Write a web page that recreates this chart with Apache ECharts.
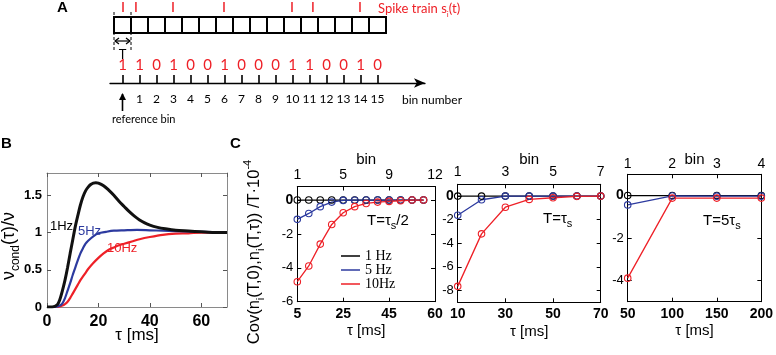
<!DOCTYPE html>
<html><head><meta charset="utf-8">
<script src="https://cdn.jsdelivr.net/npm/echarts@6/dist/echarts.min.js"></script>
<style>html,body{margin:0;padding:0;background:#fff}#c{width:776px;height:355px}</style>
</head><body><div id="c"></div>
<script>
// ---------- Panel A data ----------
const spikeTimes = [0.53, 1.29, 3.47, 6.47, 10.47, 11.7, 14.47];   // in bin units
const binCounts = [1, 1, 0, 1, 0, 0, 1, 0, 0, 0, 1, 1, 0, 0, 1, 0];
const binTickLabels = ['1','2','3','4','5','6','7','8','9','10','11','12','13','14','15'];

// ---------- Panel B data ----------
const tauBlack = [0,2,4,5,6,7,8,9,10,11,12,13,14,15,16,17,18,19,20,22,24,26,28,30,32,34,36,38,40,43,46,50,55,60,65,70];
const nuBlack  = [0,0,0.03,0.1,0.22,0.36,0.53,0.72,0.9,1.08,1.23,1.37,1.48,1.56,1.61,1.645,1.665,1.67,1.665,1.63,1.57,1.5,1.42,1.35,1.28,1.22,1.17,1.13,1.1,1.07,1.05,1.03,1.02,1.01,1.0,1.0];
const tauBlue  = [0,3,5,6,7,8,9,10,11,12,13,14,15,16,18,20,23,26,30,35,40,45,50,60,70];
const nuBlue   = [0,0,0.02,0.05,0.12,0.22,0.32,0.43,0.53,0.63,0.72,0.79,0.85,0.89,0.95,0.99,1.01,1.025,1.03,1.035,1.03,1.025,1.02,1.01,1.0];
const tauRed   = [0,4,6,7,8,9,10,11,12,13,14,15,16,18,20,22,24,26,28,30,33,36,40,45,50,55,60,70];
const nuRed    = [0,0,0.02,0.04,0.07,0.12,0.18,0.24,0.3,0.36,0.41,0.46,0.51,0.59,0.66,0.72,0.77,0.8,0.83,0.85,0.88,0.91,0.94,0.97,0.985,0.99,1.0,1.0];

// ---------- Panel C data ----------
const tauC1 = [5,10,15,20,25,30,35,40,45,50,55,60];
const cov1_1Hz  = [0,0,0,0,0,0,0,0,0,0,0,0];
const cov1_5Hz  = [-1.14,-0.79,-0.39,-0.12,-0.02,-0.01,0,0,0,0,0,0];
const cov1_10Hz = [-4.82,-3.89,-2.6,-1.44,-0.75,-0.39,-0.2,-0.12,-0.08,-0.04,0,0];
const tauC2 = [10,20,30,40,50,60,70];
const cov2_1Hz  = [0,0,0,0,0,0,0];
const cov2_5Hz  = [-1.62,-0.31,0,0,0,0,0];
const cov2_10Hz = [-7.65,-3.2,-0.94,-0.28,-0.14,-0.02,0];
const tauC3 = [50,100,150,200];
const cov3_1Hz  = [0,0,0,0];
const cov3_5Hz  = [-0.44,-0.02,-0.03,-0.03];
const cov3_10Hz = [-3.89,-0.12,-0.12,-0.12];

// tick values / labels for panel C
const c1TauTicks = [5,25,45,65],   c1TauLabels = ['5','25','45','60'];
const c1BinTicks = [1,5,9,13],     c1BinLabels = ['1','5','9','12'];
const c2TauTicks = [10,30,50,70],  c2TauLabels = ['10','30','50','70'];
const c2BinTicks = [1,3,5,7],      c2BinLabels = ['1','3','5','7'];
const c3TauTicks = [50,100,150,200], c3TauLabels = ['50','100','150','200'];
const c3BinTicks = [1,2,3,4],      c3BinLabels = ['1','2','3','4'];
const c1YTicks = [-6,-4,-2,0], c2YTicks = [-8,-6,-4,-2,0], c3YTicks = [-4,-2,0];
const legendNames = ['1 Hz', '5 Hz', '10Hz'];

const RED = '#ee2027', BLUE = '#2c3a9f', BLACK = '#000';
const zip = (a, b) => a.map((v, i) => [v, b[i]]);

const chart = echarts.init(document.getElementById('c'));

const xAxes = [], yAxes = [], grids = [], series = [];

// ---------- Panel A ----------
grids.push({left: 110, top: 0, width: 315, height: 83});
const binCenters = binCounts.map((c, i) => i + 0.5);
xAxes.push({
  gridIndex: 0, type: 'value', min: -4/17, max: 311/17,
  axisLine: {show: true, onZero: false, symbol: ['none', 'arrow'], symbolSize: [7, 11], lineStyle: {color: '#000', width: 1.3}},
  axisTick: {show: true, inside: true, length: 8, customValues: binCenters, lineStyle: {color: '#000', width: 1.6}},
  axisLabel: {show: true, customValues: binCenters.slice(1), formatter: v => binTickLabels[Math.floor(v) - 1],
    fontFamily: 'Lato', fontSize: 12, color: '#000', margin: 10},
  splitLine: {show: false}
});
yAxes.push({gridIndex: 0, type: 'value', inverse: true, min: 0, max: 83, show: false});

series.push({
  type: 'custom', xAxisIndex: 0, yAxisIndex: 0, silent: true,
  data: binCounts.map((c, i) => [i]),
  renderItem(params, api) {
    const i = api.value(0);
    const p0 = api.coord([i, 17]), p1 = api.coord([i + 1, 33]);
    return {type: 'rect', shape: {x: p0[0], y: p0[1], width: p1[0] - p0[0], height: p1[1] - p0[1]},
      style: {fill: '#fff', stroke: '#000', lineWidth: 2}};
  }
});
series.push({
  type: 'custom', xAxisIndex: 0, yAxisIndex: 0, silent: true,
  data: spikeTimes.map(t => [t]),
  renderItem(params, api) {
    const t = api.value(0);
    const p0 = api.coord([t, 2]), p1 = api.coord([t, 12]);
    return {type: 'line', shape: {x1: p0[0], y1: p0[1], x2: p1[0], y2: p1[1]}, style: {stroke: RED, lineWidth: 1.5}};
  }
});
series.push({
  type: 'custom', xAxisIndex: 0, yAxisIndex: 0, silent: true,
  data: binCounts.map((c, i) => [i + 0.5, c]),
  renderItem(params, api) {
    const p = api.coord([api.value(0), 65]);
    return {type: 'text', x: p[0], y: p[1], style: {text: String(api.value(1)), fill: RED, font: '15px Lato',
      align: 'center', verticalAlign: 'middle', textAlign: 'center', textVerticalAlign: 'middle'}};
  }
});
// T bracket and reference-bin arrow
series.push({
  type: 'custom', xAxisIndex: 0, yAxisIndex: 0, silent: true, clip: false,
  data: [[0, 1]],
  renderItem(params, api) {
    const a0 = api.coord([0, 12]), a1 = api.coord([0, 50]);
    const b0 = api.coord([1, 12]), b1 = api.coord([1, 50]);
    const l = api.coord([0, 41]), r = api.coord([1, 41]);
    const tt = api.coord([0.5, 55]);
    const rb0 = api.coord([0.5, 93]), rb1 = api.coord([0.5, 111]);
    const dash = {stroke: '#000', lineWidth: 1, lineDash: [3, 2]};
    const solid = {stroke: '#000', lineWidth: 1.2, fill: 'none'};
    return {type: 'group', children: [
      {type: 'line', shape: {x1: a0[0], y1: a0[1], x2: a1[0], y2: a1[1]}, style: dash},
      {type: 'line', shape: {x1: b0[0], y1: b0[1], x2: b1[0], y2: b1[1]}, style: dash},
      {type: 'line', shape: {x1: l[0] + 1, y1: l[1], x2: r[0] - 1, y2: r[1]}, style: solid},
      {type: 'polyline', shape: {points: [[l[0] + 5, l[1] - 3], [l[0] + 1, l[1]], [l[0] + 5, l[1] + 3]]}, style: solid},
      {type: 'polyline', shape: {points: [[r[0] - 5, r[1] - 3], [r[0] - 1, r[1]], [r[0] - 5, r[1] + 3]]}, style: solid},
      {type: 'text', x: tt[0], y: tt[1], style: {text: 'T', fill: '#000', font: '13px Lato', align: 'center', verticalAlign: 'middle', textAlign: 'center', textVerticalAlign: 'middle'}},
      {type: 'line', shape: {x1: rb0[0], y1: rb0[1] + 1, x2: rb1[0], y2: rb1[1]}, style: {stroke: '#000', lineWidth: 1.6}},
      {type: 'polygon', shape: {points: [[rb0[0], rb0[1]], [rb0[0] - 3.5, rb0[1] + 7], [rb0[0] + 3.5, rb0[1] + 7]]}, style: {fill: '#000'}}
    ]};
  }
});

// ---------- Panel B ----------
grids.push({left: 47, top: 173, width: 180, height: 134});
const frameB = {show: true, onZero: false, lineStyle: {color: '#8a8a8a', width: 1}};
const tickB = {show: true, inside: true, length: 4, lineStyle: {color: '#555', width: 1}};
xAxes.push({
  gridIndex: 1, type: 'value', min: 0, max: 70, interval: 20, position: 'bottom',
  axisLine: frameB, axisTick: tickB, splitLine: {show: false},
  axisLabel: {color: '#000', fontFamily: 'Liberation Sans', fontSize: 16, fontWeight: 'bold', margin: 7, showMaxLabel: false},
  name: 'τ [ms]', nameLocation: 'middle', nameGap: 20, nameMoveOverlap: false,
  nameTextStyle: {color: '#000', fontFamily: 'Liberation Sans', fontSize: 17}
});
xAxes.push({
  gridIndex: 1, type: 'value', min: 0, max: 70, interval: 20, position: 'top',
  axisLine: frameB, axisTick: tickB, axisLabel: {show: false}, splitLine: {show: false}
});
yAxes.push({
  gridIndex: 1, type: 'value', min: 0, max: 1.8, position: 'left',
  axisLine: frameB, axisTick: Object.assign({customValues: [0, 0.5, 1, 1.5]}, tickB), splitLine: {show: false},
  axisLabel: {customValues: [0, 0.5, 1, 1.5], color: '#000', fontFamily: 'Liberation Sans', fontSize: 13, fontWeight: 'bold', margin: 5}
});
yAxes.push({
  gridIndex: 1, type: 'value', min: 0, max: 1.8, position: 'right',
  axisLine: frameB, axisTick: Object.assign({customValues: [0, 0.5, 1, 1.5]}, tickB), axisLabel: {show: false}, splitLine: {show: false}
});
const bLine = (name, data, color, w) => ({
  type: 'line', name, xAxisIndex: 1, yAxisIndex: 1, data, showSymbol: false, smooth: 0.3,
  lineStyle: {color, width: w}, itemStyle: {color}, silent: true, z: 3
});
series.push(bLine('B 10Hz', zip(tauRed, nuRed), RED, 2.2));
series.push(bLine('B 5Hz', zip(tauBlue, nuBlue), BLUE, 2.2));
series.push(bLine('B 1Hz', zip(tauBlack, nuBlack), '#111', 3));

// ---------- Panel C ----------
const cFont = 'Liberation Sans';
function cPanel(g, box, tauMin, tauMax, tauTicks, tauLabels, binMin, binMax, binTicks, binLabels, yMin, yMax, yTicks, binGap, binMargin) {
  grids.push(box);
  const frame = {show: true, onZero: false, lineStyle: {color: '#000', width: 1}};
  const xb = xAxes.length;
  xAxes.push({
    gridIndex: g, type: 'value', min: tauMin, max: tauMax, position: 'bottom',
    axisLine: frame, splitLine: {show: false},
    axisTick: {show: true, inside: true, length: 4, customValues: tauTicks, lineStyle: {color: '#000'}},
    axisLabel: {customValues: tauTicks, formatter: v => tauLabels[tauTicks.indexOf(v)], color: '#000',
      fontFamily: cFont, fontSize: 14, fontWeight: 'bold', margin: 5},
    name: 'τ [ms]', nameLocation: 'middle', nameGap: 22, nameMoveOverlap: false,
    nameTextStyle: {color: '#000', fontFamily: cFont, fontSize: 15}
  });
  xAxes.push({
    gridIndex: g, type: 'value', min: binMin, max: binMax, position: 'top',
    axisLine: frame, splitLine: {show: false},
    axisTick: {show: true, inside: true, length: 4, customValues: binTicks, lineStyle: {color: '#000'}},
    axisLabel: {customValues: binTicks, formatter: v => binLabels[binTicks.indexOf(v)], color: '#000',
      fontFamily: cFont, fontSize: 14, margin: binMargin},
    name: 'bin', nameLocation: 'middle', nameGap: binGap, nameMoveOverlap: false,
    nameTextStyle: {color: '#000', fontFamily: cFont, fontSize: 15}
  });
  const yl = yAxes.length;
  yAxes.push({
    gridIndex: g, type: 'value', min: yMin, max: yMax, position: 'left',
    axisLine: frame, splitLine: {show: false},
    axisTick: {show: true, inside: true, length: 4, customValues: yTicks, lineStyle: {color: '#000'}},
    axisLabel: {customValues: yTicks, formatter: v => v === 0 ? '{b|0}' : String(v), color: '#000',
      fontFamily: cFont, fontSize: 13, margin: 4, rich: {b: {fontFamily: cFont, fontSize: 14, fontWeight: 'bold', color: '#000'}}}
  });
  yAxes.push({
    gridIndex: g, type: 'value', min: yMin, max: yMax, position: 'right',
    axisLine: frame, splitLine: {show: false},
    axisTick: {show: true, inside: true, length: 4, customValues: yTicks, lineStyle: {color: '#000'}},
    axisLabel: {show: false}
  });
  return {xb, yl};
}
function cSeries(ax, name, data, color) {
  series.push({
    type: 'line', name, xAxisIndex: ax.xb, yAxisIndex: ax.yl, data,
    symbol: 'circle', symbolSize: 6.5, showSymbol: true,
    lineStyle: {color, width: 1.3}, itemStyle: {color: 'rgba(0,0,0,0)', borderColor: color, borderWidth: 1.1},
    emphasis: {disabled: true}, z: 3
  });
}
const ax1 = cPanel(2, {left: 297.3, top: 186.5, width: 137.7, height: 115.2}, 5, 65, c1TauTicks, c1TauLabels, 1, 13, c1BinTicks, c1BinLabels, -6, 0.8, c1YTicks, 19, 4);
const ax2 = cPanel(3, {left: 457.7, top: 184.3, width: 143, height: 118}, 10, 70, c2TauTicks, c2TauLabels, 1, 7, c2BinTicks, c2BinLabels, -9, 1, c2YTicks, 17, 5);
const ax3 = cPanel(4, {left: 627.7, top: 174.3, width: 135.6, height: 127.4}, 50, 200, c3TauTicks, c3TauLabels, 1, 4, c3BinTicks, c3BinLabels, -5, 1, c3YTicks, 7, 3);
cSeries(ax1, '1 Hz', zip(tauC1, cov1_1Hz), BLACK);
cSeries(ax1, '5 Hz', zip(tauC1, cov1_5Hz), BLUE);
cSeries(ax1, '10Hz', zip(tauC1, cov1_10Hz), RED);
cSeries(ax2, '1 Hz', zip(tauC2, cov2_1Hz), BLACK);
cSeries(ax2, '5 Hz', zip(tauC2, cov2_5Hz), BLUE);
cSeries(ax2, '10Hz', zip(tauC2, cov2_10Hz), RED);
cSeries(ax3, '1 Hz', zip(tauC3, cov3_1Hz), BLACK);
cSeries(ax3, '5 Hz', zip(tauC3, cov3_5Hz), BLUE);
cSeries(ax3, '10Hz', zip(tauC3, cov3_10Hz), RED);

const legendColors = [BLACK, BLUE, RED];

// ---------- text annotations ----------
const txt = (x, y, text, font, fill, extra) => Object.assign({
  type: 'text', x, y, silent: true,
  style: Object.assign({text, font, fill, align: 'left', verticalAlign: 'middle', textAlign: 'left', textVerticalAlign: 'middle'}, extra || {})
});
const sub = (size, pad) => ({fontSize: size, fontFamily: cFont, verticalAlign: 'top', padding: [pad, 0, 0, 0]});
const graphics = [
  txt(57, 8, 'A', 'bold 15px Liberation Sans', '#000'),
  txt(1, 144, 'B', 'bold 15px Liberation Sans', '#000'),
  txt(230, 144, 'C', 'bold 15px Liberation Sans', '#000'),
  {type: 'text', x: 378, y: 2, silent: true, style: {
    text: '{m|Spike train s}{s|i}{m|(t)}', fill: RED,
    rich: {m: {fontFamily: 'Lato', fontSize: 13, fill: RED, verticalAlign: 'top'}, s: {fontFamily: 'Lato', fontSize: 8, fill: RED, verticalAlign: 'top', padding: [8, 0, 0, 0]}}}},
  txt(402, 100, 'bin number', '12px Lato', '#000'),
  txt(112, 119, 'reference bin', '11px Lato', '#000'),
  txt(50, 226, '1Hz', '13px Liberation Sans', '#000'),
  txt(78, 231, '5Hz', '13px Liberation Sans', BLUE),
  txt(107, 248, '10Hz', '13px Liberation Sans', RED),
  {type: 'text', x: 11, y: 246, rotation: Math.PI / 2, silent: true, style: {
    text: '{m|ν}{s|cond}{m|(τ)/ν}', align: 'center', verticalAlign: 'middle', textAlign: 'center', textVerticalAlign: 'middle',
    rich: {m: {fontFamily: cFont, fontSize: 18, verticalAlign: 'top'}, s: sub(12, 9)}}},
  {type: 'text', x: 254, y: 252, rotation: Math.PI / 2, silent: true, style: {
    text: '{m|Cov(n}{s|i}{m|(T,0),n}{s|i}{m|(T,τ)) /T·10}{p|-4}', align: 'center', verticalAlign: 'middle', textAlign: 'center', textVerticalAlign: 'middle',
    rich: {m: {fontFamily: cFont, fontSize: 16.5, verticalAlign: 'top', padding: [4, 0, 0, 0]}, s: sub(11, 13), p: sub(11, 0)}}},
  {type: 'text', x: 367, y: 213, silent: true, style: {
    text: '{m|T=τ}{s|s}{m|/2}', rich: {m: {fontFamily: cFont, fontSize: 15, verticalAlign: 'top'}, s: sub(11, 7)}}},
  {type: 'text', x: 543, y: 211, silent: true, style: {
    text: '{m|T=τ}{s|s}', rich: {m: {fontFamily: cFont, fontSize: 15, verticalAlign: 'top'}, s: sub(11, 7)}}},
  {type: 'text', x: 703, y: 213, silent: true, style: {
    text: '{m|T=5τ}{s|s}', rich: {m: {fontFamily: cFont, fontSize: 15, verticalAlign: 'top'}, s: sub(11, 7)}}}
];

chart.setOption({
  animation: false,
  backgroundColor: '#fff',
  grid: grids,
  xAxis: xAxes,
  yAxis: yAxes,
  legend: {
    left: 336, top: 244, orient: 'vertical', icon: 'rect', itemWidth: 19, itemHeight: 1.5, itemGap: 0,
    selectedMode: false,
    textStyle: {fontFamily: 'Liberation Serif', fontSize: 14, color: '#000', lineHeight: 10.5},
    data: legendNames.map((n, i) => ({name: n, itemStyle: {color: legendColors[i], borderWidth: 0}}))
  },
  series,
  graphic: {elements: graphics}
});
</script>
</body></html>
